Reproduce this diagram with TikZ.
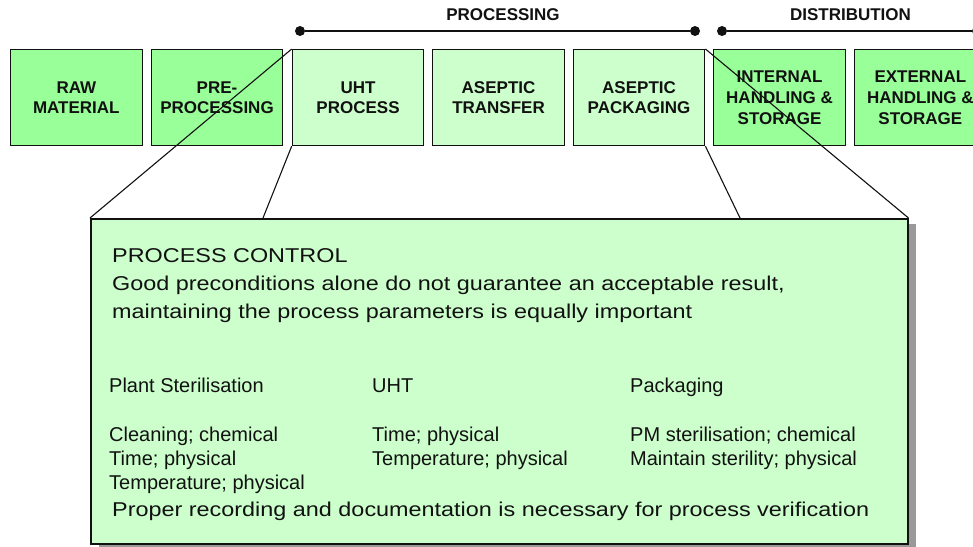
\documentclass[tikz,border=0pt]{standalone}
\usepackage{fontspec}
\setmainfont{Liberation Sans}
\newfontfamily\widefont[FakeStretch=1.17]{Liberation Sans}
\usetikzlibrary{shadows}

\definecolor{stagedark}{HTML}{99FF99}
\definecolor{stagelight}{HTML}{CCFFCC}
\definecolor{shadowgray}{HTML}{999999}
\definecolor{inkblack}{HTML}{111111}

\begin{document}
\begin{tikzpicture}[x=1pt,y=-1pt,
  stage/.style={draw=inkblack, line width=1.2pt, minimum width=131.5pt,
    minimum height=96pt, anchor=north west, inner sep=0pt, align=center,
    text=inkblack, font=\fontsize{17}{20.7}\selectfont\bfseries},
  stagedk/.style={stage, fill=stagedark},
  stagelt/.style={stage, fill=stagelight},
  phase/.style={text=inkblack, inner sep=0pt, font=\fontsize{17}{20}\selectfont\bfseries},
  enddot/.style={circle, fill=inkblack, inner sep=0pt, minimum size=10pt},
  bar/.style={draw=inkblack, line width=1.2pt},
  conn/.style={draw=inkblack, line width=1.1pt},
  bigtext/.style={anchor=base west, inner sep=0pt, text=inkblack,
    font=\widefont\fontsize{20}{28}\selectfont},
  smalltext/.style={anchor=base west, inner sep=0pt, text=inkblack,
    font=\fontsize{20}{24}\selectfont},
  callout/.style={draw=inkblack, line width=1.5pt, fill=stagelight,
    minimum width=817pt, minimum height=325pt, anchor=north west, inner sep=0pt,
    drop shadow={shadow xshift=8pt, shadow yshift=-5pt, fill=shadowgray, opacity=1}}
]
\useasboundingbox (0,0) rectangle (973,546);

% chain of stages
\node[stagedk] (raw)  at (10,49)    {RAW\\MATERIAL};
\node[stagedk] (pre)  at (150.7,49) {PRE-\\PROCESSING};
\node[stagelt] (uht)  at (291.7,49) {UHT\\PROCESS};
\node[stagelt] (atr)  at (432.2,49) {ASEPTIC\\TRANSFER};
\node[stagelt] (apk)  at (572.7,49) {ASEPTIC\\PACKAGING};
\node[stagedk] (ihs)  at (713.2,49) {INTERNAL\\HANDLING \&\\STORAGE};
\node[stagedk] (ehs)  at (854,49)   {EXTERNAL\\HANDLING \&\\STORAGE};

% phase brackets
\node[enddot] (p1) at (300,31) {};
\node[enddot] (p2) at (695,31) {};
\draw[bar] (p1) -- (p2);
\node[phase] (proclbl) at (503,15) {PROCESSING};
\node[enddot] (d1) at (722,31) {};
\node[enddot] (d2) at (977,31) {};
\draw[bar] (d1) -- (d2);
\node[phase] (distlbl) at (850.5,15) {DISTRIBUTION};

% process control callout
\node[callout] (ctrl) at (90,218) {};
\coordinate (cl) at (263,218);
\coordinate (cr) at (740,218);

\draw[conn] (uht.north west) -- (ctrl.north west);
\draw[conn] (uht.south west) -- (cl);
\draw[conn] (apk.south east) -- (cr);
\draw[conn] (apk.north east) -- (ctrl.north east);

\node[bigtext] (t1) at (112,262) {PROCESS CONTROL};
\node[bigtext] (t2) at (112,290) {Good preconditions alone do not guarantee an acceptable result,};
\node[bigtext] (t3) at (112,318) {maintaining the process parameters is equally important};

\node[smalltext] (c1h) at (109,392) {Plant Sterilisation};
\node[smalltext] (c1a) at (109,441.5) {Cleaning; chemical};
\node[smalltext] (c1b) at (109,465) {Time; physical};
\node[smalltext] (c1c) at (109,489) {Temperature; physical};

\node[smalltext] (c2h) at (372,392) {UHT};
\node[smalltext] (c2a) at (372,441.5) {Time; physical};
\node[smalltext] (c2b) at (372,465) {Temperature; physical};

\node[smalltext] (c3h) at (630,392) {Packaging};
\node[smalltext] (c3a) at (630,441.5) {PM sterilisation; chemical};
\node[smalltext] (c3b) at (630,465) {Maintain sterility; physical};

\node[bigtext] (t4) at (112,516.5) {Proper recording and documentation is necessary for process verification};
\end{tikzpicture}
\end{document}
